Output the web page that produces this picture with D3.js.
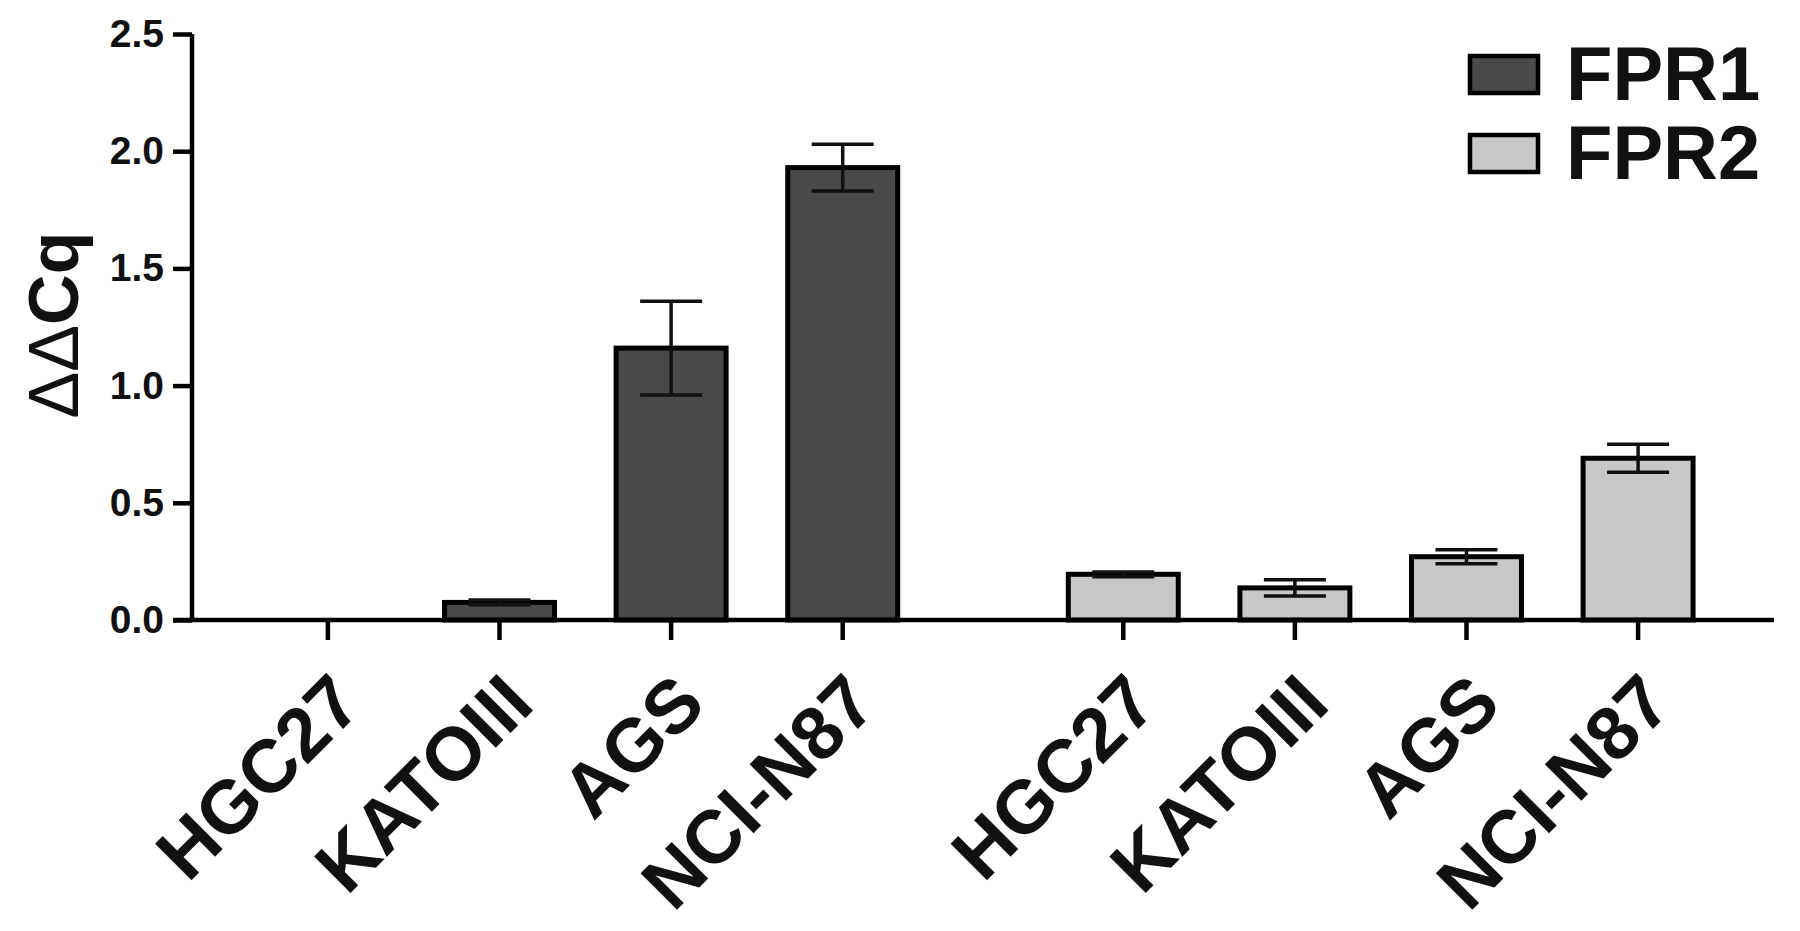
<!DOCTYPE html>
<html>
  <head>
    <meta charset="utf-8">
    <title>FPR1 / FPR2</title>
    <script src="https://d3js.org/d3.v7.min.js"></script>
    <style>
      body { margin: 0; background: #fff; }
    </style>
  </head>
  <body>
    <div id="my_dataviz"></div>
    <script>

    // data
    var categories = ["HGC27", "KATOIII", "AGS", "NCI-N87"]
    var series = ["FPR1", "FPR2"]
    var fpr1Mean = [0, 0.075, 1.16, 1.93]
    var fpr1Err  = [0, 0.01, 0.2, 0.1]
    var fpr2Mean = [0.195, 0.137, 0.27, 0.69]
    var fpr2Err  = [0.01, 0.035, 0.03, 0.06]
    var yTicks = [0, 0.5, 1.0, 1.5, 2.0, 2.5]
    var colors = {"FPR1": "#494949", "FPR2": "#c7c7c7"}

    var width = 1800, height = 931
    var x0 = 192, x1 = 1774, yBottom = 620, yTop = 34

    var data = []
    categories.forEach(function(c, i) {
        data.push({series: "FPR1", cat: c, v: fpr1Mean[i], e: fpr1Err[i]})
    })
    categories.forEach(function(c, i) {
        data.push({series: "FPR2", cat: c, v: fpr2Mean[i], e: fpr2Err[i]})
    })

    var svg = d3.select("#my_dataviz")
      .append("svg")
        .attr("width", width)
        .attr("height", height)

    // outer scale for the two data sets, inner for the cell lines
    var xGroup = d3.scaleBand()
        .domain(series)
        .range([x0, x1])
        .paddingInner(0.137)
        .paddingOuter(0.063)

    var xCat = d3.scaleBand()
        .domain(categories)
        .range([0, xGroup.bandwidth()])
        .paddingInner(0.33)
        .paddingOuter(0.165)

    var y = d3.scaleLinear()
        .domain([0, 2.5])
        .range([yBottom, yTop])

    function cx(d) { return xGroup(d.series) + xCat(d.cat) + xCat.bandwidth() / 2 }

    // bars
    svg.selectAll(".bar")
      .data(data.filter(function(d) { return d.v > 0 }))
      .enter()
      .append("rect")
        .attr("class", "bar")
        .attr("x", function(d) { return xGroup(d.series) + xCat(d.cat) + 2.5 })
        .attr("y", function(d) { return y(d.v) })
        .attr("width", xCat.bandwidth() - 5)
        .attr("height", function(d) { return y(0) - y(d.v) })
        .style("fill", function(d) { return colors[d.series] })
        .style("stroke", "#000")
        .style("stroke-width", 5)

    // error bars
    var capW = 62
    var err = svg.selectAll(".err")
      .data(data.filter(function(d) { return d.e > 0 }))
      .enter()
      .append("g")
        .attr("class", "err")
        .style("stroke", "#111")
        .style("stroke-width", 3.5)
    err.append("line")
        .attr("x1", cx).attr("x2", cx)
        .attr("y1", function(d) { return y(d.v + d.e) })
        .attr("y2", function(d) { return y(d.v - d.e) })
    err.append("line")
        .attr("x1", function(d) { return cx(d) - capW / 2 })
        .attr("x2", function(d) { return cx(d) + capW / 2 })
        .attr("y1", function(d) { return y(d.v + d.e) })
        .attr("y2", function(d) { return y(d.v + d.e) })
    err.append("line")
        .attr("x1", function(d) { return cx(d) - capW / 2 })
        .attr("x2", function(d) { return cx(d) + capW / 2 })
        .attr("y1", function(d) { return y(d.v - d.e) })
        .attr("y2", function(d) { return y(d.v - d.e) })

    // y axis
    var yAxis = svg.append("g")
        .attr("transform", "translate(" + x0 + ",0)")
        .call(d3.axisLeft(y).tickValues(yTicks).tickFormat(d3.format(".1f")).tickSize(19).tickPadding(9))
    yAxis.select(".domain").attr("d", "M0," + yBottom + "V" + yTop)
    yAxis.selectAll("line, path").style("stroke", "#000").style("stroke-width", 4.5)
    yAxis.selectAll("text")
        .style("font-family", "Liberation Sans")
        .style("font-weight", "bold")
        .style("font-size", "39px")
        .style("fill", "#111")

    // x axis (base line + one tick per bar)
    svg.append("line")
        .attr("x1", x0 - 19).attr("x2", x1)
        .attr("y1", y(0)).attr("y2", y(0))
        .style("stroke", "#000").style("stroke-width", 4.5)

    svg.selectAll(".xtick")
      .data(data)
      .enter()
      .append("line")
        .attr("class", "xtick")
        .attr("x1", cx).attr("x2", cx)
        .attr("y1", y(0)).attr("y2", y(0) + 20)
        .style("stroke", "#000").style("stroke-width", 4.5)

    svg.selectAll(".xlabel")
      .data(data)
      .enter()
      .append("text")
        .attr("class", "xlabel")
        .attr("transform", function(d) { return "translate(" + (cx(d) + 37) + "," + (y(0) + 87) + ") rotate(-45)" })
        .attr("text-anchor", "end")
        .style("font-family", "Liberation Sans")
        .style("font-weight", "bold")
        .style("font-size", "75px")
        .style("fill", "#111")
        .text(function(d) { return d.cat })

    // y title
    var title = svg.append("text")
        .attr("transform", "translate(78,325) rotate(-90)")
        .attr("text-anchor", "middle")
        .style("font-family", "Liberation Sans")
        .style("font-size", "70px")
        .style("fill", "#111")
    title.append("tspan").text("ΔΔ")
    title.append("tspan").style("font-weight", "bold").text("Cq")

    // legend
    var legend = svg.selectAll(".legend")
      .data(series)
      .enter()
      .append("g")
        .attr("class", "legend")
        .attr("transform", function(d, i) { return "translate(1470," + (56 + i * 79) + ")" })
    legend.append("rect")
        .attr("width", 68).attr("height", 37)
        .style("fill", function(d) { return colors[d] })
        .style("stroke", "#000").style("stroke-width", 4.5)
    legend.append("text")
        .attr("x", 96).attr("y", 44)
        .style("font-family", "Liberation Sans")
        .style("font-weight", "bold")
        .style("font-size", "76px")
        .style("fill", "#111")
        .text(function(d) { return d })

    </script>
  </body>
</html>
